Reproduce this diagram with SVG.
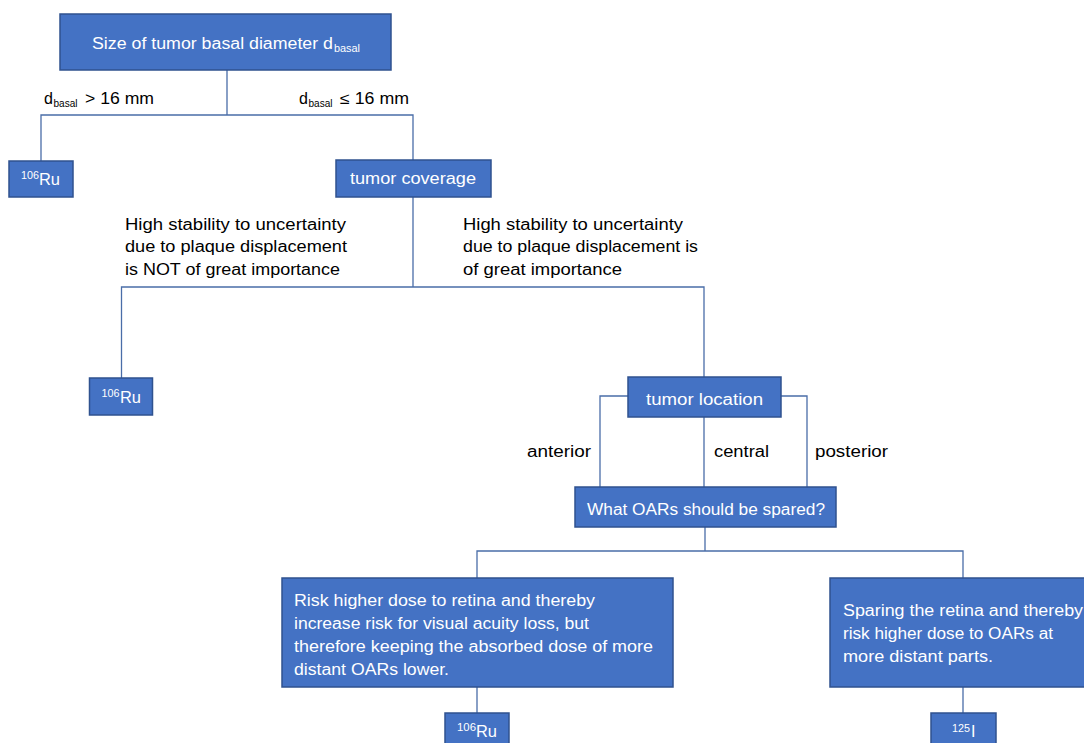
<svg xmlns="http://www.w3.org/2000/svg" width="1084" height="743" viewBox="0 0 1084 743">
<style>
.box{fill:#4472C4;stroke:#2F528F;stroke-width:1.5}
.wt{fill:#FFFFFF;font-family:"Liberation Sans",Arial,sans-serif;font-size:16px}
.bt{fill:#000000;font-family:"Liberation Sans",Arial,sans-serif;font-size:16px}
.sm{font-size:10.5px}
.con{fill:none;stroke:#4A6DA8;stroke-width:1.3}
</style>
<rect width="1084" height="743" fill="#FFFFFF"/>
<g id="connectors">
<path class="con" d="M227,70 V115 M41,161 V115 H413 V160"/>
<path class="con" d="M413,197 V287 M121.5,378 V287 H704 V377"/>
<path class="con" d="M628,396 H600 V487 M781,396 H807 V487 M704,417 V487"/>
<path class="con" d="M705,527 V551 M477,578 V551 H963 V578"/>
<path class="con" d="M477,687 V713 M963,687 V713"/>
</g>
<g id="labels">
<text class="bt" x="44" y="104">d</text><text class="bt sm" x="53.5" y="107" textLength="24" lengthAdjust="spacingAndGlyphs">basal</text><text class="bt" x="85" y="104" textLength="69" lengthAdjust="spacingAndGlyphs">&gt; 16 mm</text>
<text class="bt" x="299" y="104">d</text><text class="bt sm" x="308.5" y="107" textLength="24" lengthAdjust="spacingAndGlyphs">basal</text><text class="bt" x="340" y="104" textLength="69" lengthAdjust="spacingAndGlyphs">≤ 16 mm</text>
<text class="bt" x="125" y="230" textLength="221" lengthAdjust="spacingAndGlyphs">High stability to uncertainty</text>
<text class="bt" x="125" y="252" textLength="222" lengthAdjust="spacingAndGlyphs">due to plaque displacement</text>
<text class="bt" x="125" y="274.5" textLength="215" lengthAdjust="spacingAndGlyphs">is NOT of great importance</text>
<text class="bt" x="463" y="230" textLength="220" lengthAdjust="spacingAndGlyphs">High stability to uncertainty</text>
<text class="bt" x="463" y="252" textLength="235" lengthAdjust="spacingAndGlyphs">due to plaque displacement is</text>
<text class="bt" x="463" y="274.5" textLength="159" lengthAdjust="spacingAndGlyphs">of great importance</text>
<text class="bt" x="527" y="457" textLength="64" lengthAdjust="spacingAndGlyphs">anterior</text>
<text class="bt" x="714" y="457" textLength="55" lengthAdjust="spacingAndGlyphs">central</text>
<text class="bt" x="815" y="457" textLength="73" lengthAdjust="spacingAndGlyphs">posterior</text>
</g>
<g id="n-root">
<rect class="box" x="60" y="14" width="331" height="56"/>
<text class="wt" x="92" y="49" font-size="17" textLength="241" lengthAdjust="spacingAndGlyphs">Size of tumor basal diameter d</text>
<text class="wt sm" x="334" y="52" textLength="26" lengthAdjust="spacingAndGlyphs">basal</text>
</g>
<g id="n-ru1">
<rect class="box" x="9" y="161" width="64" height="36"/>
<text class="wt sm" x="21" y="179" textLength="18" lengthAdjust="spacingAndGlyphs">106</text><text class="wt" x="39" y="185" textLength="21" lengthAdjust="spacingAndGlyphs">Ru</text>
</g>
<g id="n-coverage">
<rect class="box" x="336" y="160" width="155" height="37"/>
<text class="wt" x="350" y="184" textLength="126" lengthAdjust="spacingAndGlyphs">tumor coverage</text>
</g>
<g id="n-ru2">
<rect class="box" x="89.5" y="378" width="63" height="37"/>
<text class="wt sm" x="101.5" y="397" textLength="18" lengthAdjust="spacingAndGlyphs">106</text><text class="wt" x="120" y="403" textLength="21" lengthAdjust="spacingAndGlyphs">Ru</text>
</g>
<g id="n-location">
<rect class="box" x="628" y="377" width="153" height="40"/>
<text class="wt" x="646" y="405" textLength="117" lengthAdjust="spacingAndGlyphs">tumor location</text>
</g>
<g id="n-oars">
<rect class="box" x="575" y="487" width="261" height="40"/>
<text class="wt" x="587" y="515" textLength="238" lengthAdjust="spacingAndGlyphs">What OARs should be spared?</text>
</g>
<g id="n-retina-risk">
<rect class="box" x="282" y="578" width="391" height="109"/>
<text class="wt" x="294" y="606" textLength="301" lengthAdjust="spacingAndGlyphs">Risk higher dose to retina and thereby</text>
<text class="wt" x="294" y="629" textLength="295" lengthAdjust="spacingAndGlyphs">increase risk for visual acuity loss, but</text>
<text class="wt" x="294" y="652" textLength="359" lengthAdjust="spacingAndGlyphs">therefore keeping the absorbed dose of more</text>
<text class="wt" x="294" y="675" textLength="155" lengthAdjust="spacingAndGlyphs">distant OARs lower.</text>
</g>
<g id="n-retina-spare">
<rect class="box" x="830" y="578" width="262" height="109"/>
<text class="wt" x="843" y="616" textLength="240" lengthAdjust="spacingAndGlyphs">Sparing the retina and thereby</text>
<text class="wt" x="843" y="639" textLength="210" lengthAdjust="spacingAndGlyphs">risk higher dose to OARs at</text>
<text class="wt" x="843" y="662" textLength="150" lengthAdjust="spacingAndGlyphs">more distant parts.</text>
</g>
<g id="n-ru3">
<rect class="box" x="445" y="713" width="64" height="40"/>
<text class="wt sm" x="457" y="731" textLength="19" lengthAdjust="spacingAndGlyphs">106</text><text class="wt" x="476" y="737" textLength="21" lengthAdjust="spacingAndGlyphs">Ru</text>
</g>
<g id="n-i125">
<rect class="box" x="931" y="713" width="65" height="40"/>
<text class="wt sm" x="952" y="732" textLength="18" lengthAdjust="spacingAndGlyphs">125</text><text class="wt" x="971" y="737">I</text>
</g>
</svg>
